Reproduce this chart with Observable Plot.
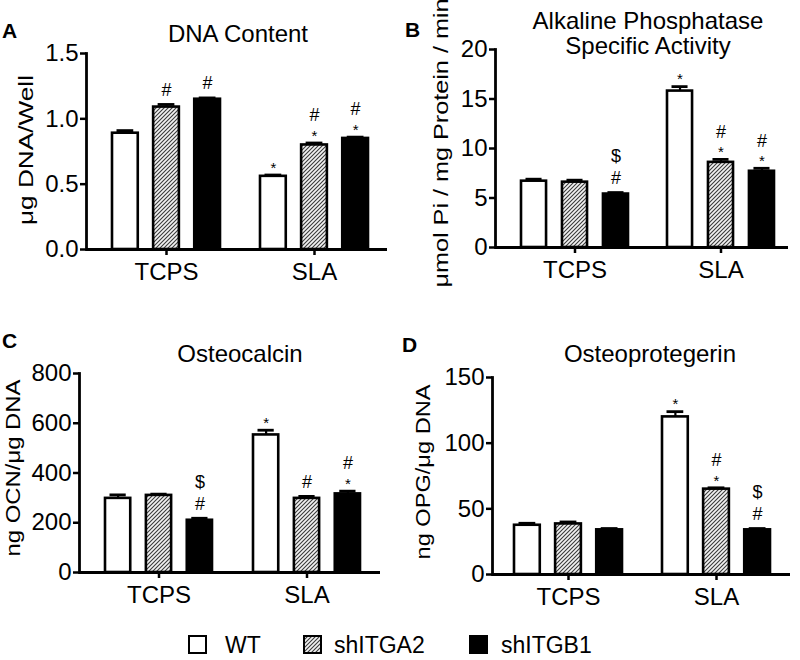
<!DOCTYPE html>
<html><head><meta charset="utf-8">
<script src="https://cdn.jsdelivr.net/npm/d3@7"></script>
<script src="https://cdn.jsdelivr.net/npm/@observablehq/plot@0.6"></script>
<style>
body{margin:0;background:#fff;}
#wrap{position:relative;width:800px;height:660px;overflow:hidden;background:#fff;}
#wrap svg{position:absolute;}
</style></head><body><div id="wrap"></div>
<script>
// ---- data ----
const groups = ["TCPS", "SLA"];
const series = ["WT", "shITGA2", "shITGB1"];
// order of values: TCPS WT, TCPS shITGA2, TCPS shITGB1, SLA WT, SLA shITGA2, SLA shITGB1
const dnaMean = [0.89, 1.09, 1.15, 0.56, 0.80, 0.85];
const dnaErr  = [0.02, 0.02, 0.01, 0.01, 0.015, 0.01];
const alpMean = [6.7, 6.6, 5.4, 15.8, 8.6, 7.7];
const alpErr  = [0.2, 0.2, 0.15, 0.45, 0.3, 0.3];
const ocnMean = [298, 310, 210, 553, 298, 316];
const ocnErr  = [14, 5, 8, 19, 8, 11];
const opgMean = [37.5, 38.5, 34, 120, 65, 34];
const opgErr  = [1.5, 1.5, 1, 4, 1, 1];
// significance symbols per bar, listed bottom to top
const dnaSig = ["", "#", "#", "*", "*#", "*#"];
const alpSig = ["", "", "#$", "*", "*#", "*#"];
const ocnSig = ["", "", "#$", "*", "#", "*#"];
const opgSig = ["", "", "", "*", "*#", "#$"];
const dnaTicks = [0, 0.5, 1.0, 1.5];
const alpTicks = [0, 5, 10, 15, 20];
const ocnTicks = [0, 200, 400, 600, 800];
const opgTicks = [0, 50, 100, 150];
const titles = ["DNA Content", "Alkaline Phosphatase\nSpecific Activity", "Osteocalcin", "Osteoprotegerin"];
const yLabels = ["μg DNA/Well", "μmol Pi / mg Protein / min", "ng OCN/μg DNA", "ng OPG/μg DNA"];
const letters = ["A", "B", "C", "D"];

// ---- layout / style ----
const FONT = "'Liberation Sans', Arial, Helvetica, sans-serif";
const fills = ["#ffffff", "url(#hatch)", "#000000"];
const W = 400, H = 300, BARW = 26, CAPW = 17;
const layout = [
  {left:0,   top:0,   ml:86, mr:13, mt:53, mb:51, pi:0.27,  po:0.15, align:0.57, max:1.5, fmt:".1f"},
  {left:400, top:0,   ml:95, mr:12, mt:49, mb:53, pi:0.265, po:0.13, align:0.66, max:20,  fmt:"d"},
  {left:0,   top:320, ml:79, mr:20, mt:53, mb:48, pi:0.275, po:0.15, align:0.57, max:800, fmt:"d"},
  {left:400, top:320, ml:92, mr:10, mt:57, mb:46, pi:0.27,  po:0.14, align:0.52, max:150, fmt:"d"}
];
const means = [dnaMean, alpMean, ocnMean, opgMean];
const errs = [dnaErr, alpErr, ocnErr, opgErr];
const sigs = [dnaSig, alpSig, ocnSig, opgSig];
const ticks = [dnaTicks, alpTicks, ocnTicks, opgTicks];

const symH = {"*": 6, "#": 13, "$": 17};
const symFS = {"*": 15, "#": 18, "$": 18};
const wrap = document.getElementById("wrap");

// overlay with pattern, titles, labels, legend
const ov = d3.create("svg").attr("width", 800).attr("height", 660)
  .style("left", "0px").style("top", "0px").style("font-family", FONT);
const pat = ov.append("defs").append("pattern").attr("id", "hatch")
  .attr("patternUnits", "userSpaceOnUse").attr("width", 4).attr("height", 4);
pat.append("rect").attr("width", 4).attr("height", 4).attr("fill", "#f2f2f2");
pat.append("path").attr("d", "M-1,1 l2,-2 M0,4 l4,-4 M3,5 l2,-2")
  .attr("stroke", "#3a3a3a").attr("stroke-width", 1.1);

for (let p = 0; p < 4; p++) {
  const L = layout[p];
  const rows = [];
  groups.forEach((g, gi) => series.forEach((s, si) => {
    const k = gi * 3 + si;
    rows.push({group: g, series: s, si, value: means[p][k], err: errs[p][k], sig: sigs[p][k]});
  }));
  const range = W - L.ml - L.mr;
  const bw = range / (2 - L.pi + 2 * L.po) * (1 - L.pi);
  const gs = (bw - BARW) / 2;
  const marks = [
    Plot.frame({anchor: "left", strokeWidth: 2.8}),
    Plot.axisY(ticks[p], {tickSize: 6, tickPadding: 2, fontSize: 24, strokeWidth: 2.5,
      tickFormat: d3.format(L.fmt), label: null}),
    Plot.axisX({tickSize: 6, tickPadding: 7, fontSize: 24, strokeWidth: 2.5, label: null}),
    Plot.ruleY([0], {strokeWidth: 2.8})
  ];
  series.forEach((s, i) => {
    const d = rows.filter(r => r.si === i);
    const off = (i - 1) * gs;
    marks.push(Plot.barY(d, {x: "group", y: "value", insetLeft: i * gs, insetRight: (2 - i) * gs,
      fill: fills[i], stroke: "#000", strokeWidth: 2.6}));
    marks.push(Plot.ruleX(d, {x: "group", y1: "value", y2: r => r.value + r.err, dx: off, stroke: "#000", strokeWidth: 2.2}));
    marks.push(Plot.tickY(d, {x: "group", y: r => r.value + r.err,
      insetLeft: i * gs + (BARW - CAPW) / 2, insetRight: (2 - i) * gs + (BARW - CAPW) / 2,
      stroke: "#000", strokeWidth: 2.8}));
    // significance annotations
    const ann = new Map();
    d.forEach(r => {
      let o = 0, prev = null;
      for (const c of r.sig) {
        o = prev === null ? 8 + symH[c] / 2 : o + symH[prev] / 2 + 7 + symH[c] / 2;
        const key = c + "|" + o;
        if (!ann.has(key)) ann.set(key, {c, o, rows: []});
        ann.get(key).rows.push(r);
        prev = c;
      }
    });
    for (const a of ann.values()) {
      const fsz = symFS[a.c];
      const corr = a.c === "*" ? 0.26 * fsz : (a.c === "$" ? 0.02 * fsz : 0);
      marks.push(Plot.text(a.rows, {x: "group", y: r => r.value + r.err, text: () => a.c,
        dx: off, dy: -a.o + corr, fontSize: fsz, lineAnchor: "middle", fill: "#000"}));
    }
  });
  const chart = Plot.plot({
    width: W, height: H,
    marginLeft: L.ml, marginRight: L.mr, marginTop: L.mt, marginBottom: L.mb,
    style: {fontFamily: FONT, fontSize: "24px", background: "transparent", overflow: "visible", color: "#000"},
    x: {type: "band", domain: groups, paddingInner: L.pi, paddingOuter: L.po, align: L.align, axis: null},
    y: {domain: [0, L.max], axis: null},
    marks
  });
  chart.style.left = L.left + "px";
  chart.style.top = L.top + "px";
  wrap.appendChild(chart);
}

// titles
const tpos = [[238, 41.5], [648, 29], [240, 362], [650, 362]];
titles.forEach((t, i) => {
  const lines = t.split("\n");
  lines.forEach((ln, j) => ov.append("text").attr("x", tpos[i][0]).attr("y", tpos[i][1] + j * 25)
    .attr("text-anchor", "middle").attr("font-size", 24).text(ln));
});
// panel letters
const lpos = [[2, 38], [405, 37], [2, 348], [402, 352]];
letters.forEach((t, i) => ov.append("text").attr("x", lpos[i][0]).attr("y", lpos[i][1])
  .attr("font-size", 21).attr("font-weight", "bold").text(t));
// y labels: [baseline x, center y, length]
const ypos = [[33, 150, 150], [448, 143, 289], [20, 468, 177], [430, 472, 175]];
yLabels.forEach((t, i) => ov.append("text")
  .attr("transform", `translate(${ypos[i][0]},${ypos[i][1]}) rotate(-90)`)
  .attr("text-anchor", "middle").attr("font-size", 21)
  .attr("textLength", ypos[i][2]).attr("lengthAdjust", "spacingAndGlyphs").text(t));
// legend
const legX = [[189, 225], [304, 334], [470, 501]];
series.forEach((s, i) => {
  ov.append("rect").attr("x", legX[i][0]).attr("y", 636).attr("width", 17).attr("height", 17)
    .attr("fill", fills[i]).attr("stroke", "#000").attr("stroke-width", 2);
  ov.append("text").attr("x", legX[i][1]).attr("y", 653).attr("font-size", 23).text(s);
});
wrap.appendChild(ov.node());
</script></body></html>
